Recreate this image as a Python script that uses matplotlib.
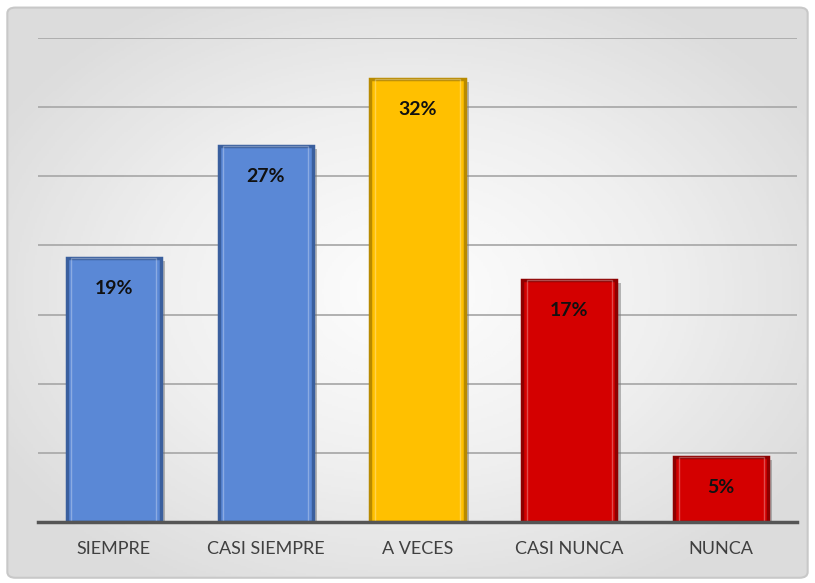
import matplotlib
matplotlib.use("Agg")
import matplotlib.pyplot as plt
import matplotlib.patheffects as pe
from matplotlib.patches import FancyBboxPatch
import numpy as np

# datos
categorias = ["SIEMPRE", "CASI SIEMPRE", "A VECES", "CASI NUNCA", "NUNCA"]
valores = [19.1, 27.2, 32.0, 17.5, 4.7]
etiquetas = ["19%", "27%", "32%", "17%", "5%"]
colores = ["#5a88d6", "#5a88d6", "#ffc000", "#d40000", "#d40000"]
bordes = ["#3a5f9e", "#3a5f9e", "#b88a00", "#8e0000", "#8e0000"]

plt.rcParams['font.family'] = ['Lato', 'DejaVu Sans']

fig = plt.figure(figsize=(8.15, 5.83), dpi=100)

# fondo con degradado radial (blanco al centro, gris en los bordes)
fondo = fig.add_axes([0, 0, 1, 1], zorder=-5)
yy, xx = np.mgrid[-1:1:300j, -1:1:400j]
r = np.sqrt((xx / 1.15) ** 2 + (yy / 1.15) ** 2)
img = fondo.imshow(np.clip(r, 0, 1), cmap="Greys", vmin=-0.05, vmax=4.5,
                   extent=[0, 1, 0, 1], aspect="auto", origin="lower")
fondo.set_xlim(0, 1)
fondo.set_ylim(0, 1)
fondo.axis("off")
marco = FancyBboxPatch((0.009, 0.009), 0.982, 0.978,
                       boxstyle="round,pad=0,rounding_size=0.01",
                       fill=False, edgecolor="#c8c8c8", linewidth=1.5)
fondo.add_patch(marco)
img.set_clip_path(marco)

ax = fig.add_axes([38 / 815, 61 / 583, 759 / 815, 484 / 583])
ax.patch.set_alpha(0)

x = np.arange(len(categorias))
barras = ax.bar(x, valores, width=0.62, color=colores, edgecolor=bordes,
                linewidth=2.5, zorder=3)
for b in barras:
    b.set_path_effects([pe.SimplePatchShadow(offset=(3, -2), shadow_rgbFace="#777777", alpha=0.5),
                        pe.Normal()])

# brillo interior (efecto bisel)
ax.bar(x, valores, width=0.56, color="none", edgecolor="white", linewidth=1,
       alpha=0.3, zorder=4)

for xi, v, t in zip(x, valores, etiquetas):
    ax.text(xi, v - 2.2, t, ha="center", va="center", fontsize=14,
            fontweight="bold", color="#111111", zorder=5)

ax.set_xlim(-0.5, len(categorias) - 0.5)
ax.set_ylim(0, 35)
ax.set_yticks(np.arange(5, 36, 5))
ax.yaxis.grid(True, color="#ababab", linewidth=1.3, zorder=0)
ax.set_yticklabels([])
ax.tick_params(axis="y", length=0)
ax.set_xticks(x)
ax.set_xticklabels(categorias, fontsize=13, color="#404040")
ax.tick_params(axis="x", length=0, pad=14)
for s in ["top", "right", "left"]:
    ax.spines[s].set_visible(False)
ax.spines["bottom"].set_color("#555555")
ax.spines["bottom"].set_linewidth(2.5)
ax.spines["bottom"].set_zorder(6)

fig.savefig("out.png", dpi=100)
